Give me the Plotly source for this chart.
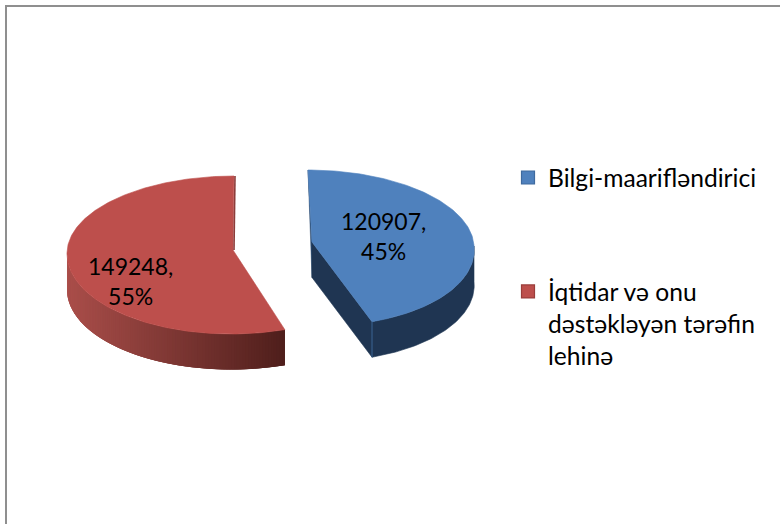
import math
import numpy as np
import plotly.graph_objects as go

categories = ["Bilgi-maarifləndirici", "İqtidar və onu<br>dəstəkləyən tərəfin<br>lehinə"]
values = [120907, 149248]
colors = ["#4f81bd", "#bd4f4c"]

W, H = 780, 524
FONT = "Lato"
total = sum(values)
share = [v / total for v in values]

# pie projection (tilted, exploded slices)
A = [162, 166]            # horizontal radius
B_FAR = [76, 77]          # radius towards back
B_NEAR = [80, 81]         # radius towards viewer
CX = [312, 233]
CY = [246, 253]
APEX = [(312, 242), (233, 250)]
SKEW_FAR = [-4, 1]
SKEW_NEAR = [8, -2]
DEPTH = 35.5

def pt(i, th):
    c, s = math.cos(th), math.sin(th)
    if c >= 0:
        return (CX[i] + A[i] * s + SKEW_FAR[i] * c, CY[i] - B_FAR[i] * c)
    return (CX[i] + A[i] * s - SKEW_NEAR[i] * c, CY[i] - B_NEAR[i] * c)

def arc(i, t0, t1, n=80):
    return [pt(i, t) for t in np.linspace(t0, t1, n)]

def poly(fig, pts, color, lw=0.6):
    xs = [p[0] for p in pts] + [pts[0][0]]
    ys = [p[1] for p in pts] + [pts[0][1]]
    fig.add_trace(go.Scatter(x=xs, y=ys, mode="lines", fill="toself", fillcolor=color,
                             line=dict(color=color, width=lw), hoverinfo="skip", showlegend=False))

def down(pts, d=DEPTH):
    return [(x, y + d) for x, y in pts]

fig = go.Figure()

split = 2 * math.pi * share[0]

# blue slice: sides
DARK_BLUE = "#1f3552"
top_b, corner_b = pt(0, 0), pt(0, split)
poly(fig, [top_b, APEX[0], (APEX[0][0], APEX[0][1] + DEPTH)], "#2b4a70", 0.5)
poly(fig, [APEX[0], corner_b, (corner_b[0], corner_b[1] + DEPTH), (APEX[0][0], APEX[0][1] + DEPTH)], DARK_BLUE)
a = arc(0, math.pi / 2, split)
poly(fig, a + down(a)[::-1], DARK_BLUE)

# red slice: gradient outer side, drawn left to right with overlapping strips
N = 110
ths = np.linspace(split, 3 * math.pi / 2, N + 1)[::-1]
cL, cR = (170, 78, 74), (78, 30, 27)
xmin, xmax = pt(1, 3 * math.pi / 2)[0], pt(1, split)[0]
for k in range(N):
    end_th = ths[min(k + 3, N)]
    a = arc(1, ths[k], end_th, 6)
    f = (a[0][0] - xmin) / (xmax - xmin)
    rgb = [round(l + (r - l) * f) for l, r in zip(cL, cR)]
    poly(fig, a + down(a)[::-1], f"rgb({rgb[0]},{rgb[1]},{rgb[2]})", 0)

# top faces
poly(fig, [APEX[0]] + arc(0, 0, split, 160), colors[0])
poly(fig, [APEX[1]] + arc(1, split, 2 * math.pi, 240), colors[1])

# thin inner edge on the red slice
top_r = pt(1, 2 * math.pi)
fig.add_trace(go.Scatter(x=[top_r[0] + 1, APEX[1][0] + 1], y=[top_r[1], APEX[1][1]], mode="lines",
                         line=dict(color="#8c3c3a", width=1.6), hoverinfo="skip", showlegend=False))
# light corner edge on the blue slice
fig.add_trace(go.Scatter(x=[corner_b[0], corner_b[0]], y=[corner_b[1], corner_b[1] + DEPTH], mode="lines",
                         line=dict(color="#3a6595", width=1), hoverinfo="skip", showlegend=False))

# legend entries
for i, name in enumerate(categories):
    fig.add_trace(go.Scatter(x=[None], y=[None], mode="markers", name=name, legendgroup=f"g{i}",
                             marker=dict(symbol="square", size=13, color=colors[i],
                                         line=dict(color="#3f6a9e" if i == 0 else "#9a3d3a", width=1.2))))

# data labels
LABEL_POS = [(383, 236), (130, 281)]
for i, v in enumerate(values):
    fig.add_annotation(x=LABEL_POS[i][0], y=LABEL_POS[i][1], xref="x", yref="y",
                       text=f"{v},<br>{round(share[i] * 100)}%", showarrow=False,
                       font=dict(family=FONT, size=23, color="#000000"), align="center")

# outer frame
fig.add_shape(type="path", path=f"M 6 {H} L 6 6 L {W} 6", xref="x", yref="y",
              line=dict(color="#8f8f8f", width=2), fillcolor="rgba(0,0,0,0)")

fig.update_layout(
    width=W, height=H, margin=dict(l=0, r=0, t=0, b=0),
    paper_bgcolor="white", plot_bgcolor="white", autosize=False,
    xaxis=dict(range=[0, W], visible=False, fixedrange=True),
    yaxis=dict(range=[H, 0], visible=False, fixedrange=True),
    legend=dict(x=508 / W, y=1 - 155 / H, xanchor="left", yanchor="top", valign="top",
                tracegroupgap=79, itemwidth=30, bgcolor="rgba(0,0,0,0)",
                font=dict(family=FONT, size=24.6, color="#000000")),
)
fig.write_html("out.html", config={"displayModeBar": False},
               post_script="document.body.style.margin='0';document.documentElement.style.overflow='hidden';")
